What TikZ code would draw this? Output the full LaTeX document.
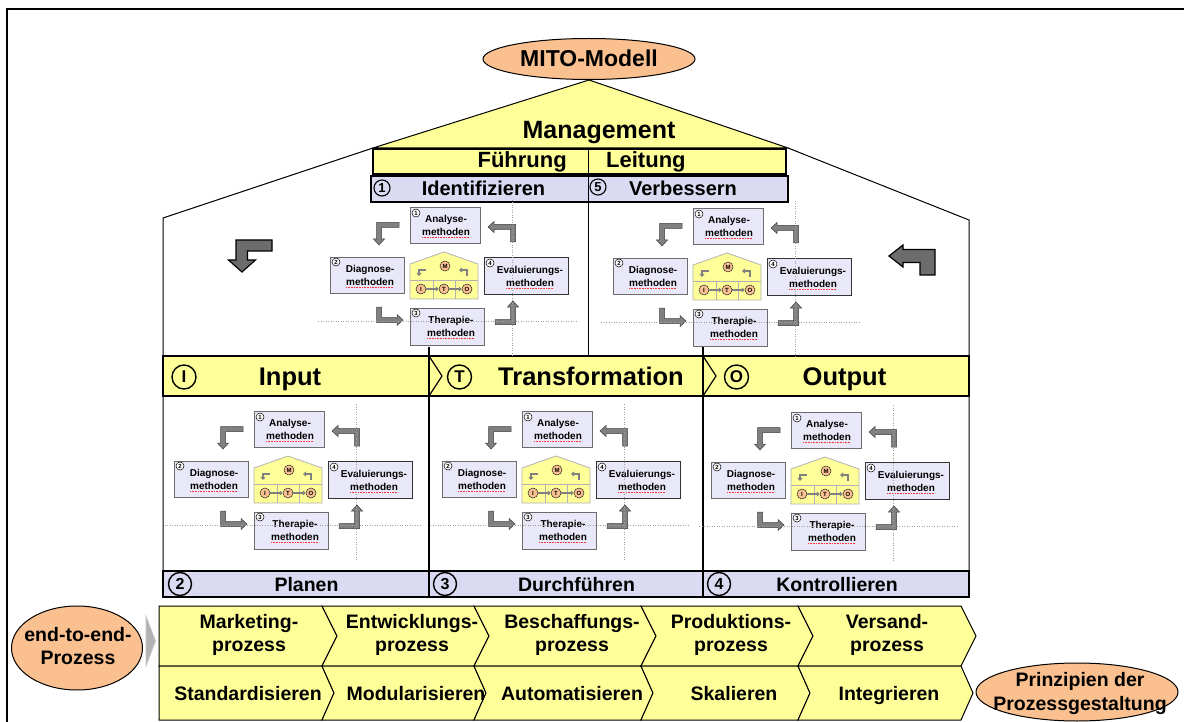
\documentclass[tikz,border=0pt]{standalone}
\usepackage{fontspec}
\setmainfont{Liberation Sans}
\usetikzlibrary{arrows.meta,shapes.geometric}
\definecolor{yel}{RGB}{255,255,153}
\definecolor{lav}{RGB}{218,218,242}
\definecolor{lavl}{RGB}{232,232,248}
\definecolor{org}{RGB}{250,192,144}
\definecolor{arrg}{RGB}{128,128,128}
\newcommand{\myfs}[2]{\fontsize{#1}{#2}\selectfont\bfseries}
\tikzset{
  minibox/.style={draw=gray!85!black, fill=lavl, line width=0.8, inner sep=0, minimum height=36},
  minitext/.style={font=\myfs{10}{13}, align=center, inner sep=0},
  numc/.style={circle, draw=black, line width=0.5, fill=white, inner sep=0, minimum size=8, font=\myfs{6}{6}},
  blockarr/.style={fill=arrg, draw=gray!50!black, line width=0.5},
  bigarr/.style={fill=gray!85!black, draw=black, line width=1.2},
  dotl/.style={draw=gray!75, line width=0.6, dash pattern=on 1pt off 1.5pt},
  squig/.style={draw=red!80, line width=0.5, dash pattern=on 0.8pt off 0.8pt},
  hcirc/.style={circle, draw=gray!30!black, line width=0.5, fill=org, inner sep=0, minimum size=10, font=\myfs{6}{6}},
  harr/.style={draw=arrg, line width=2, -{Triangle[length=3pt,width=5pt]}},
  bigc/.style={circle, draw, line width=1.4, inner sep=0, minimum size=24, font=\myfs{17}{17}},
  midc/.style={circle, draw, line width=1.1, inner sep=0, minimum size=16, font=\myfs{13}{13}},
  txt/.style={inner sep=0, anchor=base},
  bar/.style={draw, line width=1.2, inner sep=0},
  proc/.style={inner sep=0, anchor=base, align=center, font=\myfs{19.5}{23}},
  oval/.style={ellipse, draw, line width=1, fill=org, inner sep=0},
  mito/.pic={
    \draw[fill=yel, draw=gray!60, line width=0.8] (-34,-12) -- (0,-24) -- (34,-12) -- (34,23) -- (-34,23) -- cycle;
    \draw[gray!60, line width=0.8] (-34,4) -- (34,4) (-11,4) -- (-11,23) (11,4) -- (11,23);
    \node[hcirc] (-m) at (1,-10) {M};
    \node[hcirc] (-i) at (-23,13) {I};
    \node[hcirc] (-t) at (0,13) {T};
    \node[hcirc] (-o) at (23,13) {O};
    \draw[harr] (-i) -- (-t);
    \draw[harr] (-t) -- (-o);
    \draw[harr] (-18,-6) -- (-25,-6) -- (-25,0);
    \draw[harr] (23,0) -- (23,-6) -- (15,-6);
    \node[minibox, minimum width=70] (-an) at (1,-51) {};
    \node[minitext] (-ant) at (2,-51) {Analyse-\\methoden};
    \node[minibox, minimum width=74] (-di) at (-77,-1) {};
    \node[minitext] (-dit) at (-74,-1) {Diagnose-\\methoden};
    \node[minibox, draw=gray!40!black, minimum width=84, minimum height=37] (-ev) at (82,0) {};
    \node[minitext] (-evt) at (86,0) {Evaluierungs-\\methoden};
    \node[minibox, minimum width=74, minimum height=37] (-th) at (3,50.5) {};
    \node[minitext] (-tht) at (7,50.5) {Therapie-\\methoden};
    \node[numc] (-n1) at (-28,-63) {1};
    \node[numc] (-n2) at (-108,-14) {2};
    \node[numc] (-n4) at (46,-13) {4};
    \node[numc] (-n3) at (-28,37) {3};
    \draw[squig] (-22,-39) -- (26,-39);
    \draw[squig] (-98,11) -- (-50,11);
    \draw[squig] (62,12) -- (110,12);
    \draw[squig] (-17,62.5) -- (31,62.5);
    \draw[blockarr] (-45,-53.5) -- (-67.5,-53.5) -- (-67.5,-37) -- (-70.5,-37) -- (-65,-31) -- (-59.5,-37) -- (-62.5,-37) -- (-62.5,-48.5) -- (-45,-48.5) -- cycle;
    \draw[blockarr] (66.5,-34) -- (71.5,-34) -- (71.5,-51.5) -- (50,-51.5) -- (50,-54.5) -- (44,-49) -- (50,-43.5) -- (50,-46.5) -- (66.5,-46.5) -- cycle;
    \draw[blockarr] (-67.5,31) -- (-62.5,31) -- (-62.5,41.5) -- (-47,41.5) -- (-47,38.5) -- (-41,44) -- (-47,49.5) -- (-47,46.5) -- (-67.5,46.5) -- cycle;
    \draw[blockarr] (51,43.5) -- (66.5,43.5) -- (66.5,31) -- (63.5,31) -- (69,25) -- (74.5,31) -- (71.5,31) -- (71.5,48.5) -- (51,48.5) -- cycle;
    \draw[dotl] (-126,45) -- (132,45);
    \draw[dotl] (68,-76) -- (68,80);
  }
}
\begin{document}
\begin{tikzpicture}[x=1pt,y=-1pt,line join=miter]
\useasboundingbox (0,0) rectangle (1184,722);
\fill[white] (0,0) rectangle (1184,722);
% frame
\draw[line width=2.5] (7,722) -- (7,9) -- (1184,9);
% top ellipse and roof
\node[oval, minimum width=212, minimum height=41] (mito) at (589,59) {};
\node[txt, font=\myfs{23}{23}] (mitot) at (589,67) {MITO-Modell};
\draw[line width=1] (163,597) -- (163,218) -- (373,148);
\draw[line width=1] (969,597) -- (969,220) -- (788,148);
\draw[line width=1, fill=yel] (373,148) -- (mito.south) -- (788,148) -- cycle;
\node[txt, font=\myfs{25}{25}] (mgmt) at (599,139) {Management};
% Fuehrung / Leitung
\node[bar, fill=yel, minimum width=413, minimum height=25] (fbox) at (579.5,161.5) {};
\draw[line width=1] (588,149) -- (588,174);
\node[txt, anchor=base east, font=\myfs{22}{22}] (fuehr) at (567,168) {Führung};
\node[txt, anchor=base west, font=\myfs{22}{22}] (leit) at (606,168) {Leitung};
% Identifizieren / Verbessern
\node[bar, fill=lav, minimum width=417, minimum height=26] (ibox) at (579.5,189) {};
\draw[line width=1] (588,176) -- (588,356);
\node[midc] (c1) at (382,188) {1};
\node[txt, font=\myfs{20}{20}] (ident) at (483.5,196) {Identifizieren};
\node[midc] (c5) at (598,187) {5};
\node[txt, font=\myfs{20}{20}] (verb) at (683,196) {Verbessern};
% big bent arrows
\draw[bigarr] (272,240) -- (236,240) -- (236,260) -- (228.5,260) -- (242,272) -- (255.5,260) -- (247.5,260) -- (247.5,251) -- (272,251) -- cycle;
\draw[bigarr] (935,275) -- (935,249.5) -- (903,249.5) -- (903,245) -- (889,256) -- (903,267) -- (903,262.5) -- (920,262.5) -- (920,275) -- cycle;
% I-T-O bar
\node[bar, fill=yel, minimum width=806, minimum height=40] (iobar) at (566,376) {};
\node[bar, fill=lav, minimum width=806, minimum height=26] (pbar) at (566,584) {};
\draw[line width=1.2] (429,347) -- (429,597) (703,347) -- (703,597);
\draw[line width=1.2] (429,356) -- (442,376) -- (429,396);
\draw[line width=1.2] (703,356) -- (716,376) -- (703,396);
\node[bigc] (ci) at (184,377) {I};
\node[txt, font=\myfs{25.5}{25.5}] (inp) at (290,385) {Input};
\node[bigc] (ct) at (459.5,377) {T};
\node[txt, font=\myfs{25.5}{25.5}] (trf) at (591,385) {Transformation};
\node[bigc] (co) at (736.5,377) {O};
\node[txt, font=\myfs{25.5}{25.5}] (outp) at (844.5,385) {Output};
% bottom bar labels
\node[bigc, minimum size=23, font=\myfs{16}{16}] (c2) at (180,584) {2};
\node[txt, font=\myfs{19.5}{19.5}] (plan) at (306.5,591) {Planen};
\node[bigc, minimum size=23, font=\myfs{16}{16}] (c3) at (445,584) {3};
\node[txt, font=\myfs{19.5}{19.5}] (durch) at (576.5,591) {Durchführen};
\node[bigc, minimum size=23, font=\myfs{16}{16}] (c4) at (719,584) {4};
\node[txt, font=\myfs{19.5}{19.5}] (kontr) at (837,591) {Kontrollieren};
% mini diagrams
\pic (m1) at (444,276) {mito};
\pic (m2) at (727,277) {mito};
\pic (m3) at (288,480) {mito};
\pic (m4) at (556,480) {mito};
\pic (m5) at (825,481) {mito};
% process band
\foreach \a/\b/\k in {159/322/0, 322/474/1, 474/641/1, 641/798/1, 798/961/1}{
  \draw[fill=yel, line width=1] (\a,606) -- (\b,606) -- ({\b+15},636) -- (\b,666) -- (\a,666) -- ({\a+15*\k},636) -- cycle;
  \draw[fill=yel, line width=1] (\a,666) -- (\b,666) -- ({\b+12},693) -- (\b,720) -- (\a,720) -- ({\a+12*\k},693) -- cycle;
}
\node[proc] (p1) at (249,651) {Marketing-\\prozess};
\node[proc] (p2) at (412,651) {Entwicklungs-\\prozess};
\node[proc] (p3) at (572,651) {Beschaffungs-\\prozess};
\node[proc] (p4) at (731,651) {Produktions-\\prozess};
\node[proc] (p5) at (887,651) {Versand-\\prozess};
\node[proc] (q1) at (248,700) {Standardisieren};
\node[proc] (q2) at (416,700) {Modularisieren};
\node[proc] (q3) at (572,700) {Automatisieren};
\node[proc] (q4) at (734,700) {Skalieren};
\node[proc] (q5) at (889,700) {Integrieren};
% side ellipses
\node[oval, minimum width=131, minimum height=84] (e2e) at (77,648) {};
\node[proc] (e2et) at (78,664) {end-to-end-\\Prozess};
\draw[fill=gray!60, draw=gray!45, line width=0.8] (146,616) -- (155.5,641) -- (146,666) -- cycle;
\node[oval, minimum width=202, minimum height=58] (prinz) at (1077,692) {};
\node[proc, font=\myfs{19.5}{24}] (prinzt) at (1080,710) {Prinzipien der\\Prozessgestaltung};
\end{tikzpicture}
\end{document}
